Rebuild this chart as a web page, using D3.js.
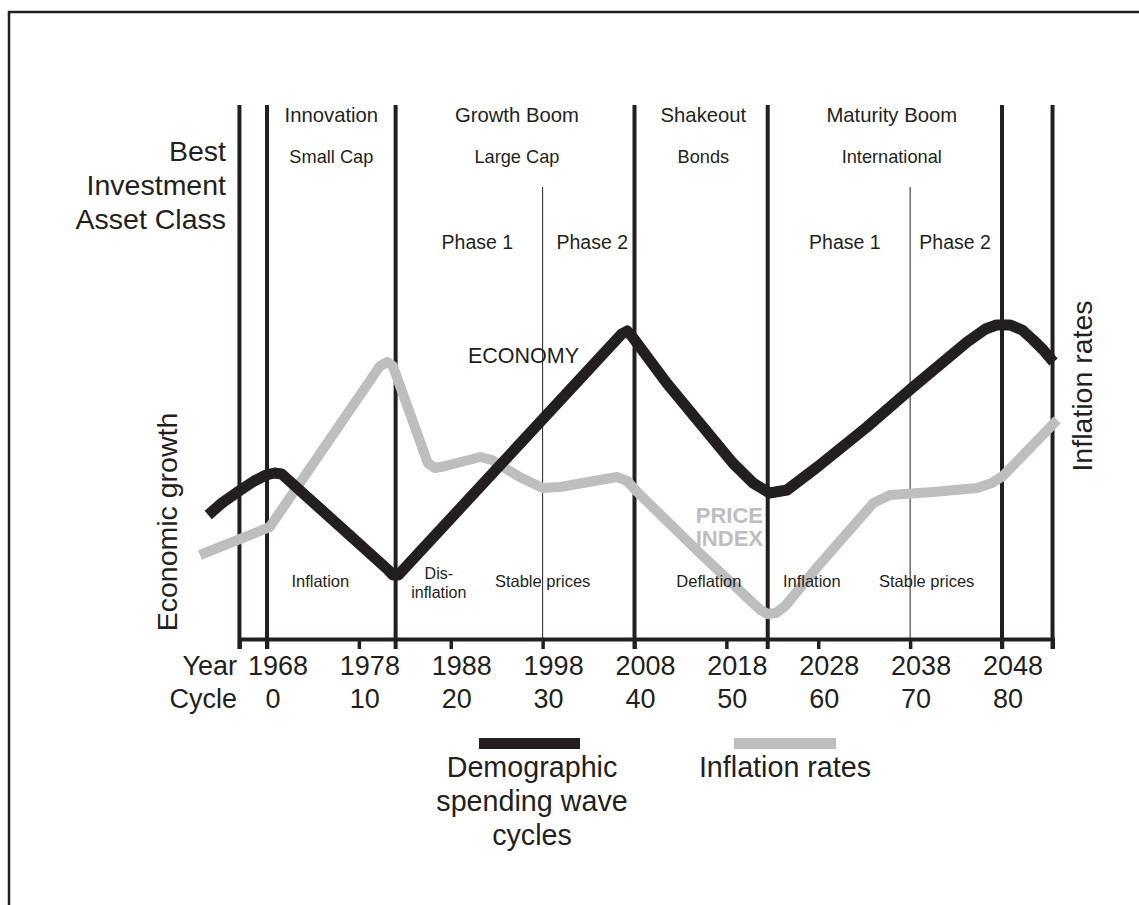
<!DOCTYPE html>
<html>
<head>
<meta charset="utf-8">
<script src="https://cdn.jsdelivr.net/npm/d3@7"></script>
<style>
  html, body { margin: 0; padding: 0; background: #ffffff; }
  svg { display: block; }
  text { font-family: "Liberation Sans", Arial, Helvetica, sans-serif; fill: #231f20; }
</style>
</head>
<body>
<svg id="chart" width="1139" height="905"></svg>
<script>
// ---------------- data ----------------
const yearTicks   = [1968, 1978, 1988, 1998, 2008, 2018, 2028, 2038, 2048];
const cycleLabels = ["0", "10", "20", "30", "40", "50", "60", "70", "80"];

// major period boundaries and phase dividers (years)
const majorLines = [1965, 1968, 1982, 2008, 2022.5, 2048, 2053.5];
const minorLines = [1998, 2038];

// Demographic spending wave (economy), relative level
const econYears  = [1961.6, 1963.1, 1964.8, 1966.6, 1967.9, 1968.8, 1969.6, 1981.2, 1981.7, 1982.3, 1982.8, 2006.6, 2007.2, 2007.7, 2011.5, 2015.1, 2018.7, 2020.9, 2022.7, 2024.6, 2027.9, 2033.3, 2038.2, 2044.2, 2046.2, 2047.4, 2048.9, 2050.2, 2051.4, 2052.5, 2053.6];
const econValues = [24.8,   27.2,   29.4,   31.6,   32.8,   33.2,   33.0,   13.8,   12.8,   12.8,   13.8,   61.0,   61.6,   60.6,   51.2,   43.2,   35.2,   31.2,   29.2,   29.8,   34.4,   42.4,   50.2,   59.4,   62.0,   62.8,   62.8,   61.8,   59.8,   57.8,   55.4];

// Inflation rates (price index), relative level
const inflYears  = [1960.7, 1968.3, 1980.3, 1981.1, 1981.7, 1985.5, 1986.3, 1987.4, 1991.2, 1992.5, 1995.5, 1998.0, 1999.9, 2006.1, 2007.2, 2008.3, 2015.1, 2021.7, 2022.5, 2023.4, 2024.4, 2027.9, 2034.0, 2035.8, 2040.5, 2045.3, 2046.9, 2048.1, 2054.0];
const inflValues = [16.8,   22.4,   54.6,   55.4,   54.6,   35.2,   34.2,   34.6,   36.4,   35.8,   32.4,   30.2,   30.4,   32.4,   31.6,   29.4,   17.2,   5.8,    5.0,    5.2,    6.6,    14.4,   27.2,   28.8,   29.4,   30.2,   31.2,   32.6,   43.8];

// period headings
const periodNames  = ["Innovation", "Growth Boom", "Shakeout", "Maturity Boom"];
const periodAssets = ["Small Cap", "Large Cap", "Bonds", "International"];
const periodCenters = [1975, 1995.2, 2015.5, 2036.0];

const phaseNames   = ["Phase 1", "Phase 2", "Phase 1", "Phase 2"];
const phaseCenters = [1990.9, 2003.4, 2030.9, 2042.9];

const priceRegimes  = ["Inflation", "Stable prices", "Deflation", "Inflation", "Stable prices"];
const regimeCenters = [1973.8, 1998.0, 2016.1, 2027.3, 2039.8];

// ---------------- layout ----------------
const svg = d3.select("#chart");
const INK = "#231f20", GREY = "#bcbec0";

const x = d3.scaleLinear().domain([1968, 2048]).range([267, 1002]);
const y = d3.scaleLinear().domain([0, 100]).range([639, 139]);
const axisY = 639, lineTop = 105, minorTop = 187, tickLen = 10;

// outer frame (top and left edges only visible)
svg.append("path")
  .attr("d", "M9,905V12H1139")
  .attr("fill", "none").attr("stroke", INK).attr("stroke-width", 2.5);

// vertical period lines
svg.append("g").selectAll("line").data(majorLines).join("line")
  .attr("x1", d => x(d)).attr("x2", d => x(d))
  .attr("y1", lineTop).attr("y2", axisY + tickLen)
  .attr("stroke", INK).attr("stroke-width", 4);

svg.append("g").selectAll("line").data(minorLines).join("line")
  .attr("x1", d => x(d)).attr("x2", d => x(d))
  .attr("y1", minorTop).attr("y2", axisY + tickLen)
  .attr("stroke", INK).attr("stroke-width", 1);

// x axis
const xAxisScale = x.copy().domain([1965, 2053.5]).range([x(1965), x(2053.5)]);
const axisG = svg.append("g").attr("transform", `translate(0,${axisY})`)
  .call(d3.axisBottom(xAxisScale).tickValues(yearTicks).tickSize(tickLen).tickSizeOuter(tickLen).tickFormat(""));
axisG.select(".domain").attr("stroke", INK).attr("stroke-width", 4);
axisG.selectAll(".tick line").attr("stroke", INK).attr("stroke-width", 3.5);

// Year / Cycle rows
const axFont = "27px";
svg.append("text").attr("x", 237).attr("y", 675).attr("text-anchor", "end")
  .style("font-size", axFont).text("Year");
svg.append("text").attr("x", 237).attr("y", 708).attr("text-anchor", "end")
  .style("font-size", axFont).text("Cycle");
svg.append("g").selectAll("text").data(yearTicks).join("text")
  .attr("x", d => x(d) + 11).attr("y", 675).attr("text-anchor", "middle")
  .style("font-size", axFont).text(d => d);
svg.append("g").selectAll("text").data(cycleLabels).join("text")
  .attr("x", (d, i) => x(yearTicks[i]) + 6).attr("y", 708).attr("text-anchor", "middle")
  .style("font-size", axFont).text(d => d);

// headings
svg.append("g").selectAll("text").data(periodNames).join("text")
  .attr("x", (d, i) => x(periodCenters[i])).attr("y", 122).attr("text-anchor", "middle")
  .style("font-size", "20.3px").text(d => d);
svg.append("g").selectAll("text").data(periodAssets).join("text")
  .attr("x", (d, i) => x(periodCenters[i])).attr("y", 163).attr("text-anchor", "middle")
  .style("font-size", "18.2px").text(d => d);
svg.append("g").selectAll("text").data(phaseNames).join("text")
  .attr("x", (d, i) => x(phaseCenters[i])).attr("y", 249).attr("text-anchor", "middle")
  .style("font-size", "19.5px").text(d => d);

// Best Investment Asset Class
const bic = svg.append("text").attr("text-anchor", "end").style("font-size", "28.5px");
["Best", "Investment", "Asset Class"].forEach((t, i) =>
  bic.append("tspan").attr("x", 226).attr("y", 161 + i * 34).text(t));

// axis titles
svg.append("text").attr("transform", "translate(177,522) rotate(-90)")
  .attr("text-anchor", "middle").style("font-size", "28.5px").text("Economic growth");
svg.append("text").attr("transform", "translate(1092,386) rotate(-90)")
  .attr("text-anchor", "middle").style("font-size", "28.5px").text("Inflation rates");

// curves
const line = d3.line().x(d => x(d[0])).y(d => y(d[1])).curve(d3.curveLinear);
const inflData = inflYears.map((d, i) => [d, inflValues[i]]);
const econData = econYears.map((d, i) => [d, econValues[i]]);

svg.append("path").datum(inflData).attr("d", line)
  .attr("fill", "none").attr("stroke", GREY).attr("stroke-width", 10)
  .attr("stroke-linejoin", "round");
svg.append("path").datum(econData).attr("d", line)
  .attr("fill", "none").attr("stroke", INK).attr("stroke-width", 11)
  .attr("stroke-linejoin", "round");

// curve labels
svg.append("text").attr("x", 468).attr("y", 363).style("font-size", "21.5px").text("ECONOMY");
const pi = svg.append("text").attr("text-anchor", "end")
  .style("font-size", "22px").style("font-weight", "bold").style("fill", GREY);
pi.append("tspan").attr("x", 763).attr("y", 523).text("PRICE");
pi.append("tspan").attr("x", 763).attr("y", 546).text("INDEX");

// price regime labels
svg.append("g").selectAll("text").data(priceRegimes).join("text")
  .attr("x", (d, i) => x(regimeCenters[i])).attr("y", 587).attr("text-anchor", "middle")
  .style("font-size", "16.5px").text(d => d);
svg.append("text").attr("x", x(1986.7)).attr("y", 579).attr("text-anchor", "middle")
  .style("font-size", "16px").text("Dis-");
svg.append("text").attr("x", x(1986.7)).attr("y", 598).attr("text-anchor", "middle")
  .style("font-size", "16px").text("inflation");

// legend
svg.append("rect").attr("x", 479).attr("y", 738).attr("width", 101).attr("height", 11).attr("fill", INK);
svg.append("rect").attr("x", 734).attr("y", 738).attr("width", 102).attr("height", 11).attr("fill", GREY);
const legFont = "28.7px";
const lg1 = svg.append("text").attr("text-anchor", "middle").style("font-size", legFont);
["Demographic", "spending wave", "cycles"].forEach((t, i) =>
  lg1.append("tspan").attr("x", 532).attr("y", 777 + i * 34).text(t));
svg.append("text").attr("x", 785).attr("y", 777).attr("text-anchor", "middle")
  .style("font-size", legFont).text("Inflation rates");
</script>
</body>
</html>
